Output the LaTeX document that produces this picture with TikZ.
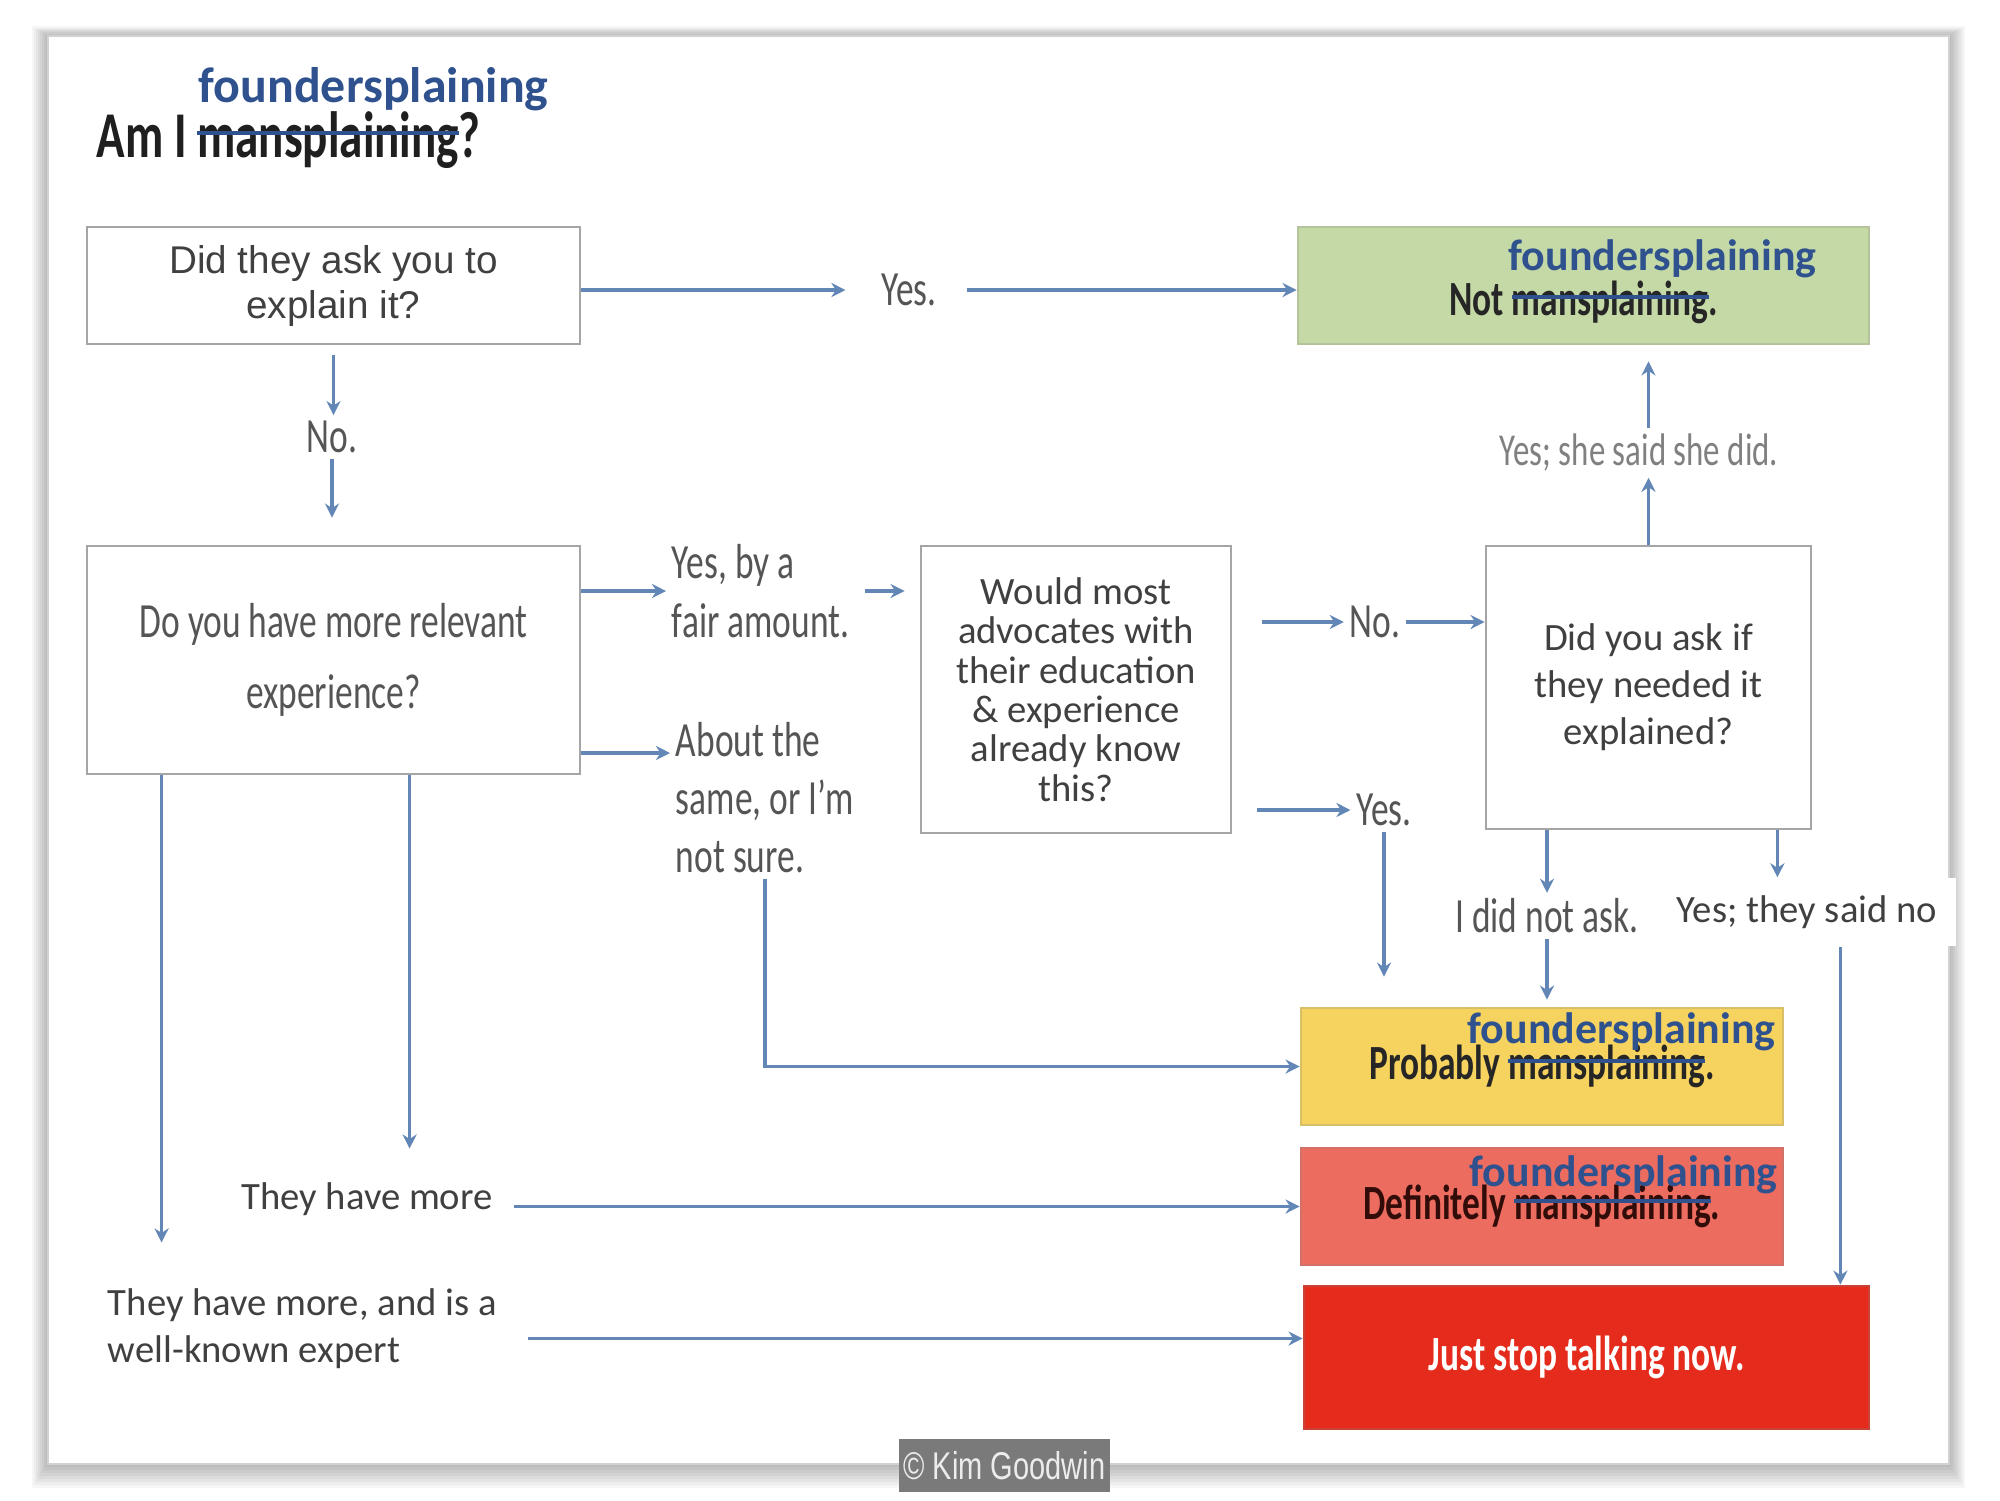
\documentclass[tikz,border=0pt]{standalone}
\usepackage{fontspec}
\setmainfont{Carlito}
\newfontfamily\oldfont[FakeStretch=0.72]{Carlito}
\newfontfamily\arialfont{Liberation Sans}
\newfontfamily\creditfont[FakeStretch=0.75]{Liberation Sans}
\usetikzlibrary{arrows.meta}
\usepackage{color}

\definecolor{fblue}{RGB}{47,82,143}
\definecolor{arrowblue}{RGB}{98,134,182}
\definecolor{boxline}{RGB}{165,165,165}
\definecolor{notgreen}{RGB}{197,217,166}
\definecolor{probyellow}{RGB}{246,211,94}
\definecolor{defred}{RGB}{236,108,96}
\definecolor{stopred}{RGB}{229,44,28}
\definecolor{txtgray}{RGB}{64,64,64}
\definecolor{oldgray}{RGB}{85,85,85}

% blue line through a word
\newcommand\strikeword[1]{\setbox0\hbox{#1}\copy0\llap{\textcolor{fblue}{\rule[.7ex]{\wd0}{1.1pt}}}}

\begin{document}
\begin{tikzpicture}[
        qbox/.style={draw=boxline, line width=0.8pt, fill=white, align=center, text=txtgray, inner sep=0pt},
        endbox/.style={draw=#1!75!gray, line width=0.8pt, fill=#1, align=center, inner sep=0pt,
            font=\oldfont\bfseries\fontsize{14}{14}\selectfont},
        oldtxt/.style={font=\oldfont\fontsize{14}{17}\selectfont, text=oldgray, align=left, inner sep=1.5pt},
        newtxt/.style={font=\fontsize{11}{13.4}\selectfont, text=txtgray, align=left, inner sep=1.5pt},
        founders/.style={font=\bfseries\fontsize{12.5}{12.5}\selectfont, text=fblue, anchor=base west, inner sep=0pt},
        flow/.style={draw=arrowblue, line width=1pt, -{Stealth[length=4pt,width=4pt]}},
    ]
        \useasboundingbox (0,0) rectangle (20,-15);
        \fill[white] (0,0) rectangle (20,-15);

        % card with soft shadow
        \foreach \i in {1,...,8}
            \fill[black, opacity=.035] (0.48-\i*0.02, -0.36+\i*0.012) rectangle (19.49+\i*0.02, -14.64-\i*0.03);
        \fill[white, draw=gray!35, line width=0.5pt] (0.48,-0.36) rectangle (19.49,-14.64);

        % title
        \node[anchor=base west, inner sep=0pt, font=\oldfont\bfseries\fontsize{18.6}{18.6}\selectfont, text=black!88]
            (title) at (0.96,-1.57) {Am I \strikeword{mansplaining}?};
        \node[founders, font=\bfseries\fontsize{14.2}{14.2}\selectfont] (fs0) at (1.98,-1.02) {foundersplaining};

        % questions
        \node[qbox, font=\arialfont\fontsize{11}{12.8}\selectfont, minimum width=4.93cm, minimum height=1.17cm]
            (ask) at (3.335,-2.855) {Did they ask you to\\explain it?};
        \node[qbox, font=\oldfont\fontsize{14}{20}\selectfont, text=oldgray, minimum width=4.93cm, minimum height=2.28cm]
            (exp) at (3.335,-6.60) {Do you have more relevant\\experience?};
        \node[qbox, font=\fontsize{11}{11.2}\selectfont, minimum width=3.10cm, minimum height=2.87cm]
            (would) at (10.76,-6.895) {Would most\\advocates with\\their education\\\& experience\\already know\\this?};
        \node[qbox, font=\fontsize{11}{13.4}\selectfont, minimum width=3.25cm, minimum height=2.83cm]
            (didask) at (16.485,-6.875) {Did you ask if\\they needed it\\explained?};

        % outcomes
        \node[endbox=notgreen, minimum width=5.71cm, minimum height=1.17cm, text=black!85]
            (notman) at (15.835,-2.855) {\raisebox{-3mm}[0pt][0pt]{Not \strikeword{mansplaining}.}};
        \node[endbox=probyellow, minimum width=4.82cm, minimum height=1.17cm, text=black!85]
            (prob) at (15.42,-10.665) {Probably \strikeword{mansplaining}.};
        \node[endbox=defred, minimum width=4.82cm, minimum height=1.17cm, text={rgb,255:red,50;green,12;blue,8}]
            (def) at (15.42,-12.065) {Definitely \strikeword{mansplaining}.};
        \node[endbox=stopred, minimum width=5.65cm, minimum height=1.43cm, text=white]
            (stop) at (15.865,-13.575) {Just stop talking now.};

        \node[founders] (fs1) at (15.08,-2.70) {foundersplaining};
        \node[founders] (fs2) at (14.67,-10.43) {foundersplaining};
        \node[founders] (fs3) at (14.69,-11.86) {foundersplaining};

        % answers
        \node[oldtxt] (yes1) at (9.09,-2.90) {Yes.};
        \node[oldtxt] (no1) at (3.32,-4.37) {No.};
        \node[oldtxt, anchor=west] (fair) at (6.66,-5.91) {Yes, by a\\fair amount.};
        \node[oldtxt, anchor=west, font=\oldfont\fontsize{14}{16.5}\selectfont] (same) at (6.70,-7.98) {About the\\same, or I’m\\not sure.};
        \node[oldtxt] (noA) at (13.75,-6.22) {No.};
        \node[oldtxt] (yes2) at (13.84,-8.10) {Yes.};
        \node[oldtxt, font=\oldfont\fontsize{13}{13}\selectfont, text=gray] (shedid) at (16.39,-4.53) {Yes; she said she did.};
        \node[oldtxt] (notask) at (15.47,-9.16) {I did not ask.};
        \node[newtxt, fill=white, align=center, minimum width=2.98cm, minimum height=0.68cm]
            (saidno) at (18.07,-9.12) {Yes; they said no};
        \node[newtxt] (more1) at (3.67,-11.99) {They have more};
        \node[newtxt, anchor=west] (more2) at (1.02,-13.285) {They have more, and is a\\well-known expert};

        \node[fill={rgb,255:red,122;green,122;blue,122}, text=gray!15, inner sep=0pt, minimum width=2.11cm, minimum height=0.53cm,
            font=\creditfont\fontsize{11}{11}\selectfont] (credit) at (10.045,-14.655) {© Kim Goodwin};

        % connectors
        \draw[flow, shorten >=3mm] (ask.east |- yes1.west) -- (yes1.west);
        \draw[flow, shorten <=2.4mm] (yes1.east) -- (yes1.east -| notman.west);
        \draw[flow, shorten <=1mm] (ask.south) -- (ask.south |- no1.north);
        \draw[flow, shorten >=2.7mm] (no1.south) -- (no1.south |- exp.north);

        \draw[flow] (exp.east |- fair.west) -- (fair.west);
        \draw[flow, shorten <=1mm, shorten >=1.5mm] (fair.east) -- (fair.east -| would.west);
        \coordinate (sametop) at ([yshift=4.5mm]same.west);
        \draw[flow] (exp.east |- sametop) -- (sametop);
        \draw[flow] (same.south) |- (prob.west);

        \draw[flow, shorten <=3mm] (would.east |- noA.west) -- (noA.west);
        \draw[flow] (noA.east) -- (noA.east -| didask.west);
        \draw[flow, shorten <=2.5mm] (would.east |- yes2.west) -- (yes2.west);
        \draw[flow, shorten >=3mm] (yes2.south) -- (yes2.south |- prob.north);

        \draw[flow] (didask.north) -- (didask.north |- shedid.south);
        \draw[flow, shorten >=1.6mm] (didask.north |- shedid.north) -- (didask.north |- notman.south);
        \draw[flow] (notask.north |- didask.south) -- (notask.north);
        \draw[flow, shorten >=0.7mm] (notask.south) -- (notask.south |- prob.north);
        \coordinate (saidtop) at ([xshift=-3.5mm]didask.south east);
        \draw[flow] (saidtop) -- (saidtop |- saidno.north);
        \coordinate (stopin) at ([xshift=-3mm]stop.north east);
        \draw[flow] (saidno.south -| stopin) -- (stopin);

        \coordinate (leftdrop) at ([xshift=7.6mm]exp.south west);
        \coordinate (middrop) at ([xshift=32.4mm]exp.south west);
        \draw[flow, shorten >=4mm] (leftdrop) -- (leftdrop |- more2.north);
        \draw[flow, shorten >=2.8mm] (middrop) -- (middrop |- more1.north);
        \draw[flow, shorten <=1.5mm] (more1.east |- def.west) -- (def.west);
        \coordinate (expertout) at ([yshift=-1mm]more2.east);
        \draw[flow, shorten <=2.5mm] (expertout) -- (expertout -| stop.west);
    \end{tikzpicture}
\end{document}
